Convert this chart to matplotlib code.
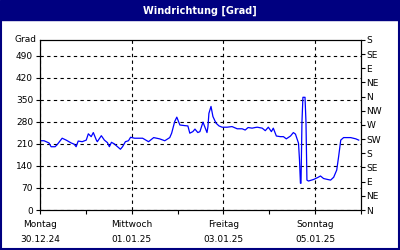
import matplotlib
matplotlib.use("Agg")
import matplotlib.pyplot as plt
from matplotlib.patches import Rectangle

# Stunden ab Montag 30.12.24 00:00
hours = [0, 2.1, 4.7, 5.8, 7.9, 8.9, 11.6, 13.7, 16.3, 17.9, 18.9, 20.0, 22.1, 24.2, 25.3,
         26.8, 27.9, 29.5, 30.0, 32.1, 33.7, 35.3, 36.3, 37.4, 38.9, 40.0, 42.1, 43.2, 44.7,
         46.3, 47.4, 49.5, 53.7, 56.8, 59.5, 62.6, 65.3, 67.9, 68.9, 70.5, 71.6, 73.2, 75.8,
         77.4, 78.4, 80.0, 81.1, 82.6, 83.7, 85.3, 87.4, 87.9, 88.4, 89.5, 90.5, 92.1, 93.7,
         95.3, 97.9, 100.5, 103.2, 105.8, 107.4, 108.9, 111.0, 112.6, 113.7, 116.3, 117.9,
         119.5, 121.1, 122.1, 123.7, 125.8, 127.4, 128.9, 131.1, 132.6, 133.7, 135.3, 135.8,
         136.3, 136.6, 137.1, 137.6, 138.7, 139.2, 139.7, 140.5, 143.2, 145.3, 146.8, 148.4,
         150.5, 152.1, 153.7, 155.3, 156.3, 157.4, 158.9, 162.6, 165.3, 166.8]
grad = [220, 220, 213, 201, 201, 207, 228, 222, 213, 209, 201, 219, 217, 222, 242,
        233, 246, 222, 217, 236, 222, 214, 201, 215, 210, 204, 193, 201, 217,
        220, 231, 228, 228, 217, 230, 226, 220, 230, 244, 281, 295, 270, 268,
        267, 244, 249, 257, 246, 249, 279, 246, 265, 307, 329, 297, 276, 267,
        263, 263, 265, 258, 258, 254, 262, 260, 262, 263, 260, 252,
        263, 249, 260, 235, 233, 233, 226, 235, 246, 241, 212, 160,
        85, 85, 280, 358, 358, 280, 95, 92, 97, 103, 108, 100,
        97, 95, 104, 127, 170, 222, 230, 230, 226, 222]

left_ticks = [0, 70, 140, 210, 280, 350, 420, 490]
right_ticks = [0, 45, 90, 135, 180, 225, 270, 315, 360, 405, 450, 495, 540]
right_labels = ['N', 'NE', 'E', 'SE', 'S', 'SW', 'W', 'NW', 'N', 'NE', 'E', 'SE', 'S']
day_pos = [0, 48, 96, 144]
day_labels = ['Montag\n30.12.24', 'Mittwoch\n01.01.25', 'Freitag\n03.01.25', 'Sonntag\n05.01.25']
minor_pos = [24, 72, 120, 168]

navy = '#000080'
plt.rcParams['font.family'] = 'DejaVu Sans'
plt.rcParams['font.size'] = 6.5

fig = plt.figure(figsize=(4, 2.5), dpi=100)
fig.patches.append(Rectangle((0, 0.92), 1, 0.08, transform=fig.transFigure,
                             color=navy, zorder=0))
fig.patches.append(Rectangle((0.002, 0.004), 0.996, 0.99, transform=fig.transFigure,
                             fill=False, edgecolor=navy, linewidth=1.5, zorder=0))
fig.text(0.5, 0.958, 'Windrichtung [Grad]', color='white', fontweight='bold',
         fontsize=7, ha='center', va='center')

ax = fig.add_axes([0.1, 0.16, 0.8025, 0.68])
ax.plot(hours, grad, color='#0000ff', linewidth=0.9)
ax.set_xlim(0, 168)
ax.set_ylim(0, 540)
ax.set_yticks(left_ticks)
ax.set_xticks(day_pos)
ax.set_xticklabels(day_labels, linespacing=1.9)
ax.set_xticks(minor_pos, minor=True)
ax.grid(True, which='major', color='black', linestyle=(0, (3, 3)), linewidth=0.8)
ax.tick_params(axis='both', which='both', direction='out', length=3, width=0.8, pad=2)
ax.tick_params(axis='x', which='major', pad=4)
ax.text(-0.012, 540, 'Grad', transform=ax.get_yaxis_transform(), ha='right', va='center')

ax2 = ax.twinx()
ax2.set_ylim(0, 540)
ax2.set_yticks(right_ticks)
ax2.set_yticklabels(right_labels)
ax2.tick_params(axis='y', direction='out', length=3, width=0.8, pad=1)

fig.savefig('out.png', dpi=100)
